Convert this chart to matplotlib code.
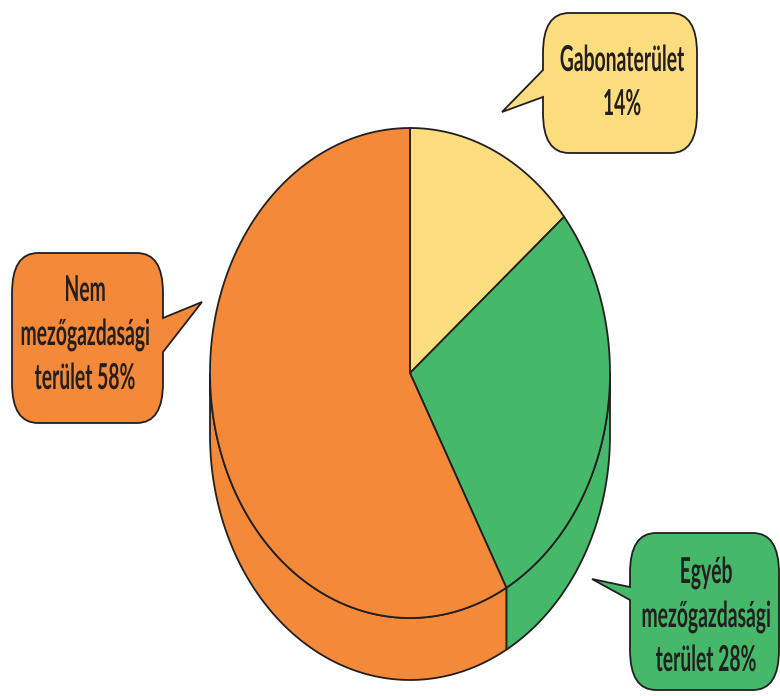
import numpy as np
import matplotlib.pyplot as plt
from matplotlib.patches import Polygon, PathPatch
from matplotlib.path import Path
from matplotlib.patheffects import AbstractPathEffect
from matplotlib.transforms import Affine2D

# Adatok: foldterulet megoszlasa (%)
nevek = ["Gabonaterület", "Egyéb\nmezőgazdasági\nterület", "Nem\nmezőgazdasági\nterület"]
szazalek = [14, 28, 58]
szinek = ["#FDDD7E", "#45B86A", "#F4893A"]
vonal = "#231F20"

# Szovegbuborekok: (x0, y0, x1, y1, oldal, talp1, talp2, csucs_x, csucs_y, szoveg_x, elso_alapvonal)
buborekok = [
    (543, 13, 697, 153, "bal", 70, 97, 502, 112, 622, 71),
    (630, 533, 779, 690, "bal", 587, 600, 592, 579, 706, 583),
    (12, 253, 163, 423, "jobb", 318, 352, 202, 302, 85, 301),
]
sorkoz = 44

# Kordiagram geometriaja (kepponti egysegekben)
cx, cy, rx, ry, mely = 410, 373, 200, 245, 62

fig = plt.figure(figsize=(7.8, 6.96), dpi=100)
ax = fig.add_axes([0, 0, 1, 1])
ax.set_xlim(0, 780)
ax.set_ylim(696, 0)
ax.axis("off")


def ivpontok(t1, t2, dy=0, n=120):
    t = np.radians(np.linspace(t1, t2, n))
    return np.column_stack([cx + rx * np.cos(t), cy - ry * np.sin(t) + dy])


# szeletek szogei: 12 oratol indul, oramutato jarasa szerint
hatarok = 90 - np.concatenate([[0], np.cumsum(szazalek)]) * 3.6

# oldalfal (csak a also, lathato fel)
for i in range(len(szazalek)):
    a, b = hatarok[i], hatarok[i + 1]
    hi, lo = min(a, 0), max(b, -180)
    if lo < hi:
        felso = ivpontok(hi, lo)
        also = ivpontok(lo, hi, dy=mely)
        ax.add_patch(Polygon(np.vstack([felso, also]), closed=True,
                             facecolor=szinek[i], edgecolor=vonal, lw=1.3, zorder=1))

# teteje
for i in range(len(szazalek)):
    a, b = hatarok[i], hatarok[i + 1]
    pts = np.vstack([[cx, cy], ivpontok(a, b)])
    ax.add_patch(Polygon(pts, closed=True, facecolor=szinek[i],
                         edgecolor=vonal, lw=1.3, zorder=2))


def buborek(x0, y0, x1, y1, oldal, t1, t2, csx, csy, rv=26, rf=40):
    # lekerekitett sarkok: rv vizszintes, rf fuggoleges sugar
    v = [(x0 + rv, y0), (x1 - rv, y0), (x1, y0), (x1, y0 + rf)]
    k = [Path.MOVETO, Path.LINETO, Path.CURVE3, Path.CURVE3]
    if oldal == "jobb":
        v += [(x1, t1), (csx, csy), (x1, t2)]
        k += [Path.LINETO] * 3
    v += [(x1, y1 - rf), (x1, y1), (x1 - rv, y1), (x0 + rv, y1), (x0, y1), (x0, y1 - rf)]
    k += [Path.LINETO, Path.CURVE3, Path.CURVE3, Path.LINETO, Path.CURVE3, Path.CURVE3]
    if oldal == "bal":
        v += [(x0, t2), (csx, csy), (x0, t1)]
        k += [Path.LINETO] * 3
    v += [(x0, y0 + rf), (x0, y0), (x0 + rv, y0), (x0 + rv, y0)]
    k += [Path.LINETO, Path.CURVE3, Path.CURVE3, Path.CLOSEPOLY]
    return Path(v, k)


# a betuk fuggolegesen megnyujtva (keskeny, magas betuk mint az eredetin)
class Nyujt(AbstractPathEffect):
    def __init__(self, sy):
        super().__init__()
        self.sy = sy

    def draw_path(self, renderer, gc, tpath, affine, rgbFace=None):
        a = Affine2D().scale(1, self.sy) + affine
        renderer.draw_path(gc, tpath, a, rgbFace)


for i, bb in enumerate(buborekok):
    x0, y0, x1, y1, oldal, t1, t2, csx, csy, tx, ty = bb
    ax.add_patch(PathPatch(buborek(x0, y0, x1, y1, oldal, t1, t2, csx, csy),
                           facecolor=szinek[i], edgecolor=vonal, lw=1.3, zorder=3))
    sor = nevek[i] + (" " if "\n" in nevek[i] else "\n") + f"{szazalek[i]}%"
    for j, s in enumerate(sor.split("\n")):
        ax.text(tx, ty + j * sorkoz, s, ha="center", va="baseline", fontsize=13.9,
                fontweight="bold", color=vonal, family=["Lato", "DejaVu Sans"],
                zorder=4, path_effects=[Nyujt(1.85)])

fig.savefig("out.png", dpi=100)
